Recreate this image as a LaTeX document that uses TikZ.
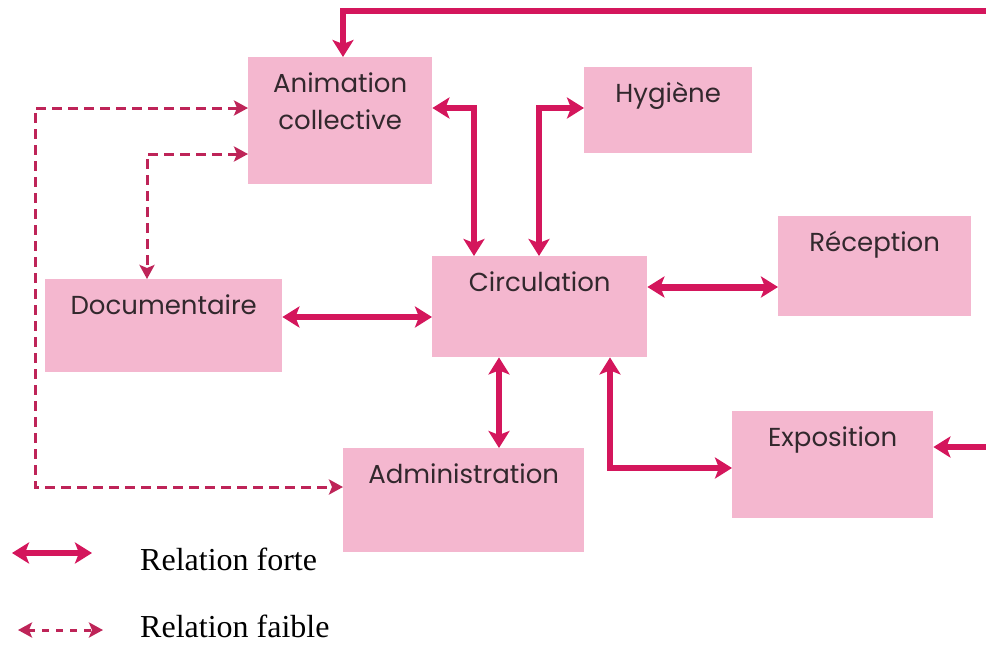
\documentclass[tikz,border=0pt]{standalone}
\usepackage{fontspec}
\setmainfont{Liberation Serif}
\newfontfamily\boxfont{Poppins}
\usetikzlibrary{arrows.meta}
\definecolor{boxpink}{RGB}{244,183,207}
\definecolor{linkred}{RGB}{212,22,92}
\definecolor{weakred}{RGB}{190,36,88}
\definecolor{labelgray}{RGB}{50,40,45}
% top-aligned label inside a fixed-size box
\newcommand{\boxlabel}[3]{\parbox[t][#2][t]{#1}{\centering\baselineskip=37pt\rule{0pt}{35pt}#3}}
\tikzset{
  box/.style={fill=boxpink, inner sep=0pt, anchor=north west, text=labelgray,
    font=\boxfont\fontsize{26}{30}\selectfont},
  strong/.style={draw=linkred, line width=5.5pt,
    {Stealth[length=17pt,width=21pt,inset=4pt]}-{Stealth[length=17pt,width=21pt,inset=4pt]}},
  strongend/.style={draw=linkred, line width=5.5pt,
    -{Stealth[length=17pt,width=21pt,inset=4pt]}},
  weak/.style={draw=weakred, line width=3pt, dash pattern=on 10pt off 6pt,
    {Stealth[length=14pt,width=15pt,inset=3pt]}-{Stealth[length=14pt,width=15pt,inset=3pt]}},
  legendtext/.style={anchor=base west, inner sep=0pt, text=black, text depth=0pt,
    font=\fontsize{32}{36}\selectfont}
}
\begin{document}
\begin{tikzpicture}[x=1pt,y=-1pt]
\useasboundingbox[fill=white] (0,0) rectangle (986,646);

% boxes
\node[box] (anim)  at (248,57)  {\boxlabel{184pt}{127pt}{Animation\\collective}};
\node[box] (hyg)   at (584,67)  {\boxlabel{168pt}{86pt}{Hygiène}};
\node[box] (recep) at (778,216) {\boxlabel{193pt}{100pt}{Réception}};
\node[box] (circ)  at (432,256) {\boxlabel{215pt}{101pt}{Circulation}};
\node[box] (doc)   at (45,279)  {\boxlabel{237pt}{93pt}{Documentaire}};
\node[box] (admin) at (343,448) {\boxlabel{241pt}{104pt}{Administration}};
\node[box] (expo)  at (732,411) {\boxlabel{201pt}{107pt}{Exposition}};

% anchor points for the connectors
\coordinate (feedtop)   at (986,11);
\coordinate (feedright) at (986,447);
\coordinate (weakleft)  at (35,300);
\coordinate (dc) at ([yshift=-38pt]doc.north east);
\coordinate (cr) at ([yshift=-31pt]circ.north east);
\coordinate (ca) at ([xshift=67pt]circ.south west);
\coordinate (ce) at ([xshift=178pt]circ.south west);

% strong relations
\draw[strongend] (feedtop) -| ([xshift=95pt]anim.north west);
\draw[strongend] (feedright) -- (feedright -| expo.east);
\draw[strong] ([yshift=-51pt]anim.north east) -| ([xshift=42pt]circ.north west);
\draw[strong] ([xshift=107pt]circ.north west) |- ([yshift=-41pt]hyg.north west);
\draw[strong, line width=7pt] (cr) -- (cr -| recep.west);
\draw[strong] (dc) -- (dc -| circ.west);
\draw[strong] (ca) -- (ca |- admin.north);
\draw[strong] (ce) |- ([yshift=-57pt]expo.north west);

% weak relations
\draw[weak] ([yshift=-51pt]anim.north west) -| (weakleft) |- ([yshift=-39pt]admin.north west);
\draw[weak] ([yshift=-97pt]anim.north west) -| ([xshift=102pt]doc.north west);

% legend
\coordinate (ls1) at (12,553);
\coordinate (ls2) at (92,553);
\coordinate (lw1) at (18,630);
\coordinate (lw2) at (103,630);
\draw[strong] (ls1) -- (ls2);
\draw[weak, dash pattern=on 7pt off 7pt] (lw1) -- (lw2);
\node[legendtext] (lforte)  at (140,570) {Relation forte};
\node[legendtext] (lfaible) at (140,637) {Relation faible};
\end{tikzpicture}
\end{document}
